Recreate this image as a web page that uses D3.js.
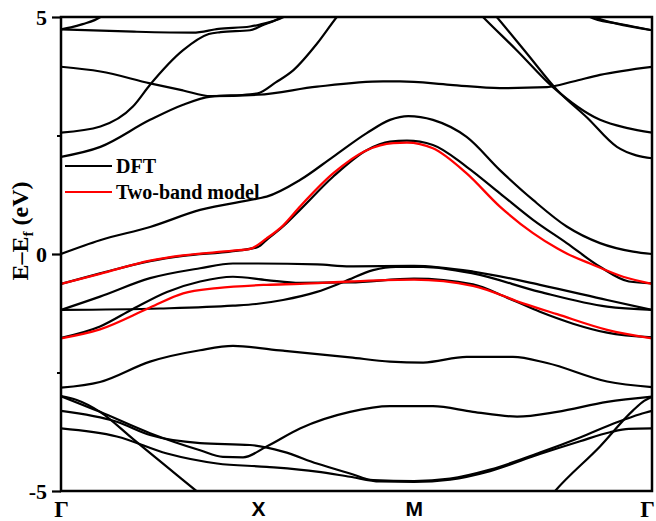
<!DOCTYPE html>
<html>
<head>
<meta charset="utf-8">
<script src="https://cdn.jsdelivr.net/npm/d3@7"></script>
<style>
  body { margin: 0; background: #fff; }
  svg { display: block; }
</style>
</head>
<body>
<svg id="chart"></svg>
<script>
// high-symmetry path: Γ - X - M - Γ (path length in arbitrary k units)
const kPoints = [0, 1, 1.79, 3.0];
const kLabels = ["Γ", "X", "M", "Γ"];
const yMajor = [-5, 0, 5];
const yMinor = [-2.5, 2.5];

// DFT bands, [k, E-Ef]
const bandK  = [[0,4.74],[0.05,4.78],[0.11,4.85],[0.2,5.0],[0.3,5.4]];
const bandL  = [[0,4.74],[0.37,4.69],[0.67,4.67],[0.8,4.75],[0.96,4.8],[1.01,4.84],[1.13,5.0],[1.25,5.35]];
const bandM1 = [[0,2.56],[0.2,2.69],[0.365,3.11],[0.452,3.57],[0.62,4.3],[0.75,4.64],[0.81,4.68],[0.96,4.72],[1.02,4.82],[1.12,5.0],[1.22,5.35]];
const bandO  = [[0,3.95],[0.2,3.85],[0.452,3.6],[0.62,3.45],[0.76,3.33],[1.0,3.36],[1.3,3.53],[1.635,3.64],[1.72,3.64],[1.975,3.57],[2.228,3.5],[2.467,3.52],[2.6,3.64],[2.736,3.78],[3.0,3.95]];
const bandP  = [[0,2.05],[0.2,2.26],[0.452,2.83],[0.62,3.15],[0.76,3.32],[0.96,3.37],[1.0,3.39],[1.09,3.62],[1.18,3.88],[1.3,4.44],[1.4,5.0],[1.47,5.35]];
const bandQ1 = [[2.05,5.4],[2.142,5.0],[2.313,4.3],[2.497,3.52],[2.736,2.83],[2.87,2.66],[3.0,2.56]];
const bandQ2 = [[2.13,5.4],[2.212,5.0],[2.365,4.23],[2.518,3.46],[2.67,2.88],[2.822,2.26],[2.92,2.08],[3.0,2.02]];
const bandK2 = [[2.6,5.4],[2.685,5.0],[2.82,4.86],[3.0,4.72]];
const bandL2 = [[2.64,5.3],[2.71,5.0],[2.88,4.82],[3.0,4.72]];
const bandF  = [[0,0.0],[0.198,0.29],[0.452,0.57],[0.706,0.93],[1.0,1.17],[1.044,1.21],[1.213,1.56],[1.381,2.05],[1.552,2.55],[1.67,2.83],[1.763,2.91],[1.888,2.83],[2.059,2.47],[2.228,1.77],[2.396,1.14],[2.567,0.58],[2.736,0.23],[2.904,0.05],[3.0,0.0]];
const bandG  = [[0,-0.63],[0.198,-0.41],[0.452,-0.15],[0.62,-0.04],[0.873,0.06],[1.0,0.15],[1.044,0.3],[1.127,0.58],[1.213,0.93],[1.381,1.63],[1.552,2.19],[1.67,2.37],[1.756,2.39],[1.888,2.3],[2.059,1.84],[2.228,1.28],[2.396,0.72],[2.567,0.23],[2.736,-0.27],[2.883,-0.58],[3.0,-0.62]];
const bandH  = [[0,-1.18],[0.198,-0.9],[0.452,-0.51],[0.706,-0.3],[0.873,-0.2],[1.0,-0.2],[1.3,-0.22],[1.467,-0.26],[1.792,-0.25],[2.091,-0.37],[2.431,-0.65],[2.772,-0.97],[3.0,-1.18]];
const bandI  = [[0,-1.18],[0.5,-1.15],[0.873,-1.09],[1.0,-1.05],[1.127,-0.97],[1.299,-0.8],[1.44,-0.58],[1.584,-0.34],[1.7,-0.27],[1.838,-0.27],[2.091,-0.41],[2.431,-0.8],[2.772,-1.11],[3.0,-1.18]];
const bandJ  = [[0,-1.77],[0.198,-1.53],[0.365,-1.16],[0.538,-0.8],[0.706,-0.58],[0.873,-0.48],[1.044,-0.55],[1.213,-0.61],[1.467,-0.6],[1.792,-0.52],[2.091,-0.64],[2.264,-0.92],[2.431,-1.22],[2.599,-1.47],[2.772,-1.66],[3.0,-1.76]];
const bandA  = [[0,-2.82],[0.198,-2.7],[0.452,-2.27],[0.706,-2.03],[0.873,-1.94],[1.127,-2.04],[1.467,-2.18],[1.67,-2.27],[1.838,-2.29],[2.059,-2.17],[2.294,-2.17],[2.467,-2.3],[2.772,-2.69],[3.0,-2.81]];
const bandB  = [[0,-3.0],[0.08,-3.08],[0.198,-3.33],[0.365,-3.9],[0.538,-4.49],[0.69,-5.01],[0.85,-5.55]];
const bandB2 = [[2.4,-5.55],[2.508,-5.0],[2.736,-4.06],[2.904,-3.3],[2.96,-3.1],[3.0,-3.01]];
const bandC  = [[0,-3.0],[0.198,-3.33],[0.452,-3.78],[0.706,-4.14],[0.822,-4.28],[0.924,-4.29],[1.044,-4.06],[1.213,-3.68],[1.467,-3.33],[1.67,-3.21],[1.888,-3.21],[2.091,-3.33],[2.315,-3.43],[2.518,-3.33],[2.772,-3.12],[3.0,-3.01]];
const bandD  = [[0,-3.31],[0.283,-3.54],[0.452,-3.82],[0.706,-3.99],[0.959,-4.03],[1.127,-4.17],[1.299,-4.42],[1.467,-4.63],[1.584,-4.77],[1.792,-4.79],[1.975,-4.74],[2.178,-4.55],[2.431,-4.19],[2.635,-3.87],[2.822,-3.55],[2.939,-3.38],[3.0,-3.31]];
const bandE  = [[0,-3.68],[0.283,-3.85],[0.538,-4.21],[0.792,-4.42],[1.044,-4.49],[1.299,-4.59],[1.467,-4.7],[1.619,-4.8],[1.792,-4.81],[1.975,-4.76],[2.178,-4.58],[2.431,-4.22],[2.635,-3.95],[2.787,-3.76],[2.883,-3.69],[3.0,-3.68]];

// two-band model
const model1 = [[0,-0.63],[0.198,-0.42],[0.452,-0.14],[0.62,-0.03],[0.873,0.07],[0.96,0.11],[1.044,0.33],[1.127,0.6],[1.213,1.0],[1.381,1.7],[1.552,2.19],[1.686,2.34],[1.756,2.35],[1.888,2.23],[2.059,1.7],[2.228,1.0],[2.396,0.44],[2.518,0.12],[2.567,0.01],[2.685,-0.2],[2.853,-0.48],[3.0,-0.63]];
const model2 = [[0,-1.78],[0.198,-1.59],[0.452,-1.13],[0.62,-0.83],[0.792,-0.72],[1.044,-0.65],[1.213,-0.63],[1.467,-0.58],[1.792,-0.54],[2.091,-0.67],[2.345,-1.04],[2.518,-1.27],[2.772,-1.6],[3.0,-1.78]];

const dftBands = [bandK, bandL, bandM1, bandO, bandP, bandQ1, bandQ2, bandK2, bandL2,
  bandF, bandG, bandH, bandI, bandJ, bandA, bandB, bandB2, bandC, bandD, bandE];
const modelBands = [model1, model2];

const width = 656, height = 521;
const margin = { left: 61, right: 4, top: 17, bottom: 30 };
const serif = "'Liberation Serif', 'Times New Roman', serif";
const sans = "'Liberation Sans', Arial, sans-serif";

const svg = d3.select("#chart").attr("width", width).attr("height", height);

const x = d3.scaleLinear().domain([0, 3.0]).range([margin.left, width - margin.right]);
const y = d3.scaleLinear().domain([-5, 5]).range([height - margin.bottom, margin.top]);

svg.append("clipPath").attr("id", "plotclip")
  .append("rect")
  .attr("x", x(0)).attr("y", y(5))
  .attr("width", x(3.0) - x(0)).attr("height", y(-5) - y(5));

const line = d3.line()
  .x(d => x(d[0]))
  .y(d => y(d[1]))
  .curve(d3.curveMonotoneX);

const plot = svg.append("g").attr("clip-path", "url(#plotclip)");

plot.selectAll("path.dft")
  .data(dftBands)
  .join("path")
  .attr("class", "dft")
  .attr("d", line)
  .attr("fill", "none")
  .attr("stroke", "#000")
  .attr("stroke-width", 2.2);

plot.selectAll("path.model")
  .data(modelBands)
  .join("path")
  .attr("class", "model")
  .attr("d", line)
  .attr("fill", "none")
  .attr("stroke", "#f00")
  .attr("stroke-width", 2.3);

// frame
svg.append("rect")
  .attr("x", x(0)).attr("y", y(5))
  .attr("width", x(3.0) - x(0)).attr("height", y(-5) - y(5))
  .attr("fill", "none")
  .attr("stroke", "#000")
  .attr("stroke-width", 2.5);

// y axis: labelled major ticks and short minor ticks
const yAxis = svg.append("g")
  .attr("transform", `translate(${x(0)},0)`)
  .call(d3.axisLeft(y).tickValues(yMajor).tickSize(9).tickPadding(5).tickFormat(d => String(d)));
yAxis.select(".domain").remove();
yAxis.selectAll("line").attr("stroke-width", 2.2);
yAxis.selectAll("text")
  .attr("font-family", serif)
  .attr("font-weight", "bold")
  .attr("font-size", 22)
  .attr("fill", "#000");

const yMinorAxis = svg.append("g")
  .attr("transform", `translate(${x(0)},0)`)
  .call(d3.axisLeft(y).tickValues(yMinor).tickSize(4).tickFormat(""));
yMinorAxis.select(".domain").remove();
yMinorAxis.selectAll("line").attr("stroke-width", 2);

// x axis: symmetry point labels only
const xAxis = svg.append("g")
  .attr("transform", `translate(0,${y(-5)})`)
  .call(d3.axisBottom(x).tickValues(kPoints).tickSize(0).tickPadding(10).tickFormat((d, i) => kLabels[i]));
xAxis.select(".domain").remove();
xAxis.selectAll("text")
  .attr("font-weight", "bold")
  .attr("fill", "#000")
  .attr("font-family", (d, i) => kLabels[i] === "Γ" ? serif : sans)
  .attr("font-size", (d, i) => kLabels[i] === "Γ" ? 23 : 21)
  // the last Γ sits on the page edge; nudge it in so it is not cut
  .attr("dx", (d, i) => i === kPoints.length - 1 ? -5 : 0);

// y label
const ylab = svg.append("text")
  .attr("transform", `translate(28,${231}) rotate(-90)`)
  .attr("text-anchor", "middle")
  .attr("font-family", serif)
  .attr("font-weight", "bold")
  .attr("font-size", 24)
  .attr("fill", "#000");
ylab.append("tspan").text("E–E");
ylab.append("tspan").attr("font-size", 15).attr("dy", 5).text("f");
ylab.append("tspan").attr("dy", -5).text(" (eV)");

// legend
const legend = [
  { label: "DFT", color: "#000" },
  { label: "Two-band model", color: "#f00" }
];
const lg = svg.append("g").attr("transform", "translate(65,166)");
legend.forEach(function (d, i) {
  lg.append("line")
    .attr("x1", 0).attr("x2", 47)
    .attr("y1", i * 26).attr("y2", i * 26)
    .attr("stroke", d.color)
    .attr("stroke-width", 2.2);
  lg.append("text")
    .attr("x", 51).attr("y", i * 26 + 7)
    .attr("font-family", serif)
    .attr("font-weight", "bold")
    .attr("font-size", 20)
    .attr("fill", "#000")
    .text(d.label);
});
</script>
</body>
</html>
